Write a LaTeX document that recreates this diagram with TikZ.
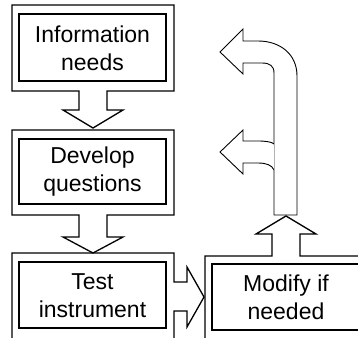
\documentclass[tikz,border=0pt]{standalone}
\usepackage{fontspec}
\setmainfont{Liberation Sans}
\begin{document}
\begin{tikzpicture}[x=1pt,y=-1pt,
  frame/.style={draw=black,line width=1.3pt,line join=miter},
  inner/.style={draw=black,line width=1.1pt},
  bent/.style={draw=black,line width=0.9pt,line join=miter},
  label/.style={align=center,font=\fontsize{23}{28}\selectfont,inner sep=0pt}]
\useasboundingbox (0,0) rectangle (358,337);

% first stage: frame with downward block arrow
\draw[frame] (79,91) -- (12,91) -- (12,5) -- (174,5) -- (174,91) -- (107,91)
  -- (107,110) -- (123,110) -- (93,128) -- (63,110) -- (79,110) -- cycle;
\draw[inner] (19,14) rectangle (166,81);
\node[label] (info) at (92.5,48) {Information\\needs};

% second stage
\draw[frame] (79,215) -- (12,215) -- (12,130) -- (174,130) -- (174,215) -- (107,215)
  -- (107,237) -- (123,237) -- (93,253) -- (63,237) -- (79,237) -- cycle;
\draw[inner] (19,139) rectangle (166,204);
\node[label] (dev) at (92.5,172) {Develop\\questions};

% third stage with block arrow to the right
\draw[frame] (12,340) -- (12,253) -- (174,253) -- (174,282) -- (187,282) -- (187,267)
  -- (204,297) -- (187,327) -- (187,311) -- (174,311) -- (174,340);
\draw[inner] (19,262) rectangle (166,328);
\node[label] (test) at (92.5,295.5) {Test\\instrument};

% fourth stage with block arrow upward
\draw[frame] (205,340) -- (205,256) -- (272,256) -- (272,234) -- (256,234) -- (286,216)
  -- (316,234) -- (300,234) -- (300,256) -- (362,256);
\draw[inner] (362,264) -- (212,264) -- (212,330) -- (362,330);
\node[label] (mod) at (286,297.5) {Modify if\\needed};

% feedback shaft with two branches pointing left
\draw[bent] (297,215) -- (297,76) .. controls (297,54) and (280,41) .. (258,41)
  -- (243,41) -- (243,29) -- (220,52) -- (243,74) -- (243,63) -- (262,63)
  .. controls (270,63) and (274,66) .. (274,73) -- (274,144)
  .. controls (272,142) and (266,141) .. (258,141) -- (243,141) -- (243,130)
  -- (220,152) -- (243,174) -- (243,163) -- (258,163)
  .. controls (266,163) and (272,165) .. (274,170) -- (274,215) -- cycle;
\draw[gray!60,line width=0.5pt] (274,144) -- (274,170);
\end{tikzpicture}
\end{document}
